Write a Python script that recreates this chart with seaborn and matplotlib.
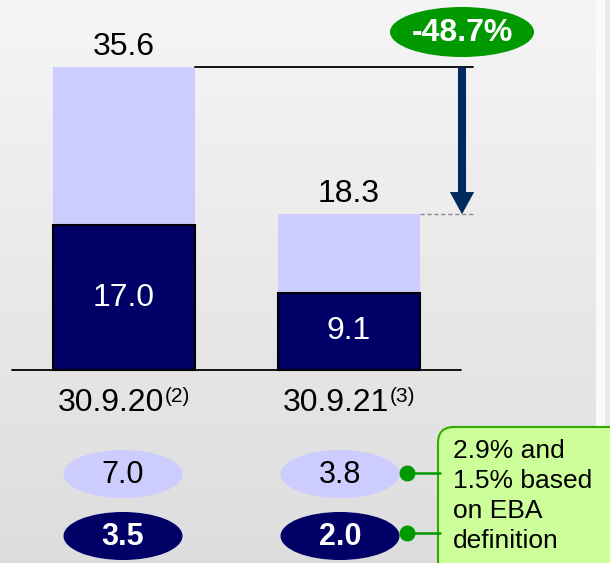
import numpy as np
import pandas as pd
import matplotlib
matplotlib.use("Agg")
import matplotlib.pyplot as plt
import seaborn as sns
from matplotlib.colors import LinearSegmentedColormap
from matplotlib.patches import Ellipse, FancyBboxPatch, FancyArrowPatch, Rectangle, ArrowStyle

# ---- data -------------------------------------------------------------
dates = ["30.9.20", "30.9.21"]
date_notes = ["(2)", "(3)"]
total_npe = [35.6, 18.3]
core_npe = [17.0, 9.1]
ratio_total = [7.0, 3.8]
ratio_core = [3.5, 2.0]
change_label = "-48.7%"
callout_text = "2.9% and\n1.5% based\non EBA\ndefinition"

# ---- style ------------------------------------------------------------
LIGHT = "#ccccff"
NAVY = "#000066"
ARROW = "#002a5e"
GREEN = "#009900"
BOX_FILL = "#ccff99"
BOX_EDGE = "#33aa00"

sns.set_theme(style="white")
plt.rcParams["font.family"] = ["Liberation Sans", "DejaVu Sans"]

W, H = 610, 563
fig = plt.figure(figsize=(W / 100, H / 100), dpi=100)

# background: soft vertical gradient plus the slide's right edge strip
bg = fig.add_axes([0, 0, 1, 1], zorder=0)
grad = np.linspace(0, 1, 256).reshape(-1, 1)
cmap = LinearSegmentedColormap.from_list("bg", ["#f5f5f5", "#dddddd"])
bg.imshow(grad, cmap=cmap, aspect="auto", extent=[0, W, H, 0])
bg.add_patch(Rectangle((596, 0), 9, H, color="#fafafa", lw=0))
bg.add_patch(Rectangle((605, 0), 5, H, color="#e9e9e9", lw=0))
bg.set_xlim(0, W)
bg.set_ylim(H, 0)
bg.axis("off")

# ---- bars ---------------------------------------------------------------
ax = fig.add_axes([0, 0, 1, 1], zorder=1)
ax.set_facecolor("none")
df = pd.DataFrame({"date": dates, "total": total_npe, "core": core_npe})
BAR_W = 0.627
sns.barplot(data=df, x="date", y="total", color=LIGHT, width=BAR_W,
            saturation=1, edgecolor="none", ax=ax)
sns.barplot(data=df, x="date", y="core", color=NAVY, width=BAR_W,
            saturation=1, edgecolor="black", linewidth=1.5, ax=ax)

# map axes so one category step is 225 px and one unit is 8.5 px
X0_PX, STEP_PX = 124, 225
BASE_PX, UNIT_PX = 370, 8.51
ax.set_xlim(-X0_PX / STEP_PX, (W - X0_PX) / STEP_PX)
ax.set_ylim(-(H - BASE_PX) / UNIT_PX, BASE_PX / UNIT_PX)
ax.axis("off")


def px2x(px):
    return (px - X0_PX) / STEP_PX


# baseline
ax.plot([px2x(12), px2x(461)], [0, 0], color="black", lw=1.3, zorder=3)

# value labels
for i, (t, c) in enumerate(zip(total_npe, core_npe)):
    ax.annotate(f"{t:.1f}", (i, t), xytext=(0, 9), textcoords="offset points",
                ha="center", va="baseline", fontsize=23, color="black")
    ax.text(i, c / 2, f"{c:.1f}", ha="center", va="center",
            fontsize=23, color="white")

# reduction marker
x_end = px2x(473)
x_arrow = px2x(462)
ax.plot([0 + BAR_W / 2, x_end], [total_npe[0]] * 2, color="black", lw=1.3, zorder=3)
ax.plot([1 + BAR_W / 2, x_end], [total_npe[1]] * 2, color="#8a8a8a", lw=1,
        dashes=(3, 2), zorder=3)
arrow = FancyArrowPatch((x_arrow, total_npe[0]), (x_arrow, total_npe[1]),
                        arrowstyle=ArrowStyle.Simple(head_length=16, head_width=17.5,
                                                     tail_width=5.8),
                        mutation_scale=1, shrinkA=0, shrinkB=0,
                        color=ARROW, lw=0, zorder=4)
ax.add_patch(arrow)

# ---- overlay in pixel space for the annotation shapes -------------------
ov = fig.add_axes([0, 0, 1, 1], zorder=2)
ov.set_facecolor("none")
ov.set_xlim(0, W)
ov.set_ylim(H, 0)
ov.axis("off")

ov.add_patch(Ellipse((462, 32), 144, 50, color=GREEN, lw=0))
ov.text(462, 33, change_label, ha="center", va="center", fontsize=23,
        fontweight="bold", color="white")

# category labels with smaller raised footnote markers, centred as a unit
renderer = fig.canvas.get_renderer()
for i, (d, n) in enumerate(zip(dates, date_notes)):
    cx = X0_PX + i * STEP_PX
    main = ov.text(0, 403, d, ha="left", va="center", fontsize=23, color="black")
    note = ov.text(0, 397, n, ha="left", va="center", fontsize=15, color="black")
    w_main = main.get_window_extent(renderer).width
    w_note = note.get_window_extent(renderer).width
    left = cx - (w_main + w_note) / 2
    main.set_x(left)
    note.set_x(left + w_main)

# ratio ellipses
ell_x = [123, 340]
for cx, rt, rc in zip(ell_x, ratio_total, ratio_core):
    ov.add_patch(Ellipse((cx, 474), 119, 48, color=LIGHT, lw=0))
    ov.text(cx, 475, f"{rt:.1f}", ha="center", va="center", fontsize=22,
            color="black")
    ov.add_patch(Ellipse((cx, 536), 119, 48, color=NAVY, lw=0))
    ov.text(cx, 537, f"{rc:.1f}", ha="center", va="center", fontsize=22,
            fontweight="bold", color="white")

# callout
for y in (473, 533):
    ov.plot([407, 440], [y, y], color=GREEN, lw=1.8, zorder=3)
    ov.plot(407, y, "o", ms=10.5, color=GREEN, zorder=4)
ov.add_patch(FancyBboxPatch((438, 427), 220, 200,
                            boxstyle="round,pad=0,rounding_size=16",
                            fc=BOX_FILL, ec=BOX_EDGE, lw=1.5, zorder=2))
ov.text(453, 439, callout_text, ha="left", va="top", fontsize=19,
        linespacing=1.31, color="black", zorder=5)

fig.savefig("out.png", dpi=100)
